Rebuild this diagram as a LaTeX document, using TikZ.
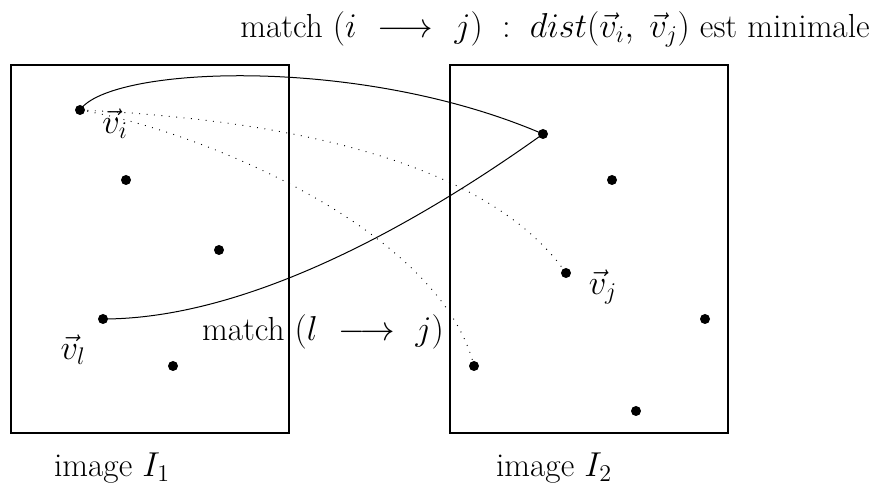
\documentclass[tikz,border=0pt]{standalone}
\usepackage{amsmath}
\newcommand{\gp}{\mkern6mu}
\begin{document}
\begin{tikzpicture}[x=0.6pt,y=-0.6pt,
  frame/.style={draw,line width=0.9pt},
  pt/.style={circle,fill,inner sep=0pt,minimum size=6pt},
  lbl/.style={inner sep=0pt,font=\fontsize{20}{24}\selectfont},
  link/.style={line width=0.6pt},
  guess/.style={line width=0.55pt,dash pattern=on 0.55pt off 3.9pt}]
\useasboundingbox (0,0) rectangle (870,486);
\node[frame,minimum width=166.8pt,minimum height=220.8pt,inner sep=0pt] (I1) at (150,249) {};
\node[frame,minimum width=166.8pt,minimum height=220.8pt,inner sep=0pt] (I2) at (589,249) {};
% left points
\node[pt] (vi) at (80,110) {};
\node[pt] (a1) at (126,180) {};
\node[pt] (a2) at (219,250) {};
\node[pt] (vl) at (103,319) {};
\node[pt] (a3) at (173,366) {};
% right points
\node[pt] (vm) at (543,134) {};
\node[pt] (b1) at (612,180) {};
\node[pt] (vj) at (566,273) {};
\node[pt] (b2) at (705,319) {};
\node[pt] (vk) at (474,366) {};
\node[pt] (b3) at (636,411) {};
% labels
\node[lbl] (Lvi) at (115,124) {$\vec{v}_i$};
\node[lbl] (Lvl) at (73,350) {$\vec{v}_l$};
\node[lbl] (Lvj) at (603,287) {$\vec{v}_j$};
\node[lbl] (Lml) at (323,332) {match $(l\gp\longrightarrow\gp j)$};
\node[lbl] (Ltop) at (555,29) {match $(i\gp\longrightarrow\gp j)\;:\;dist(\vec{v}_i,\;\vec{v}_j)$ est minimale};
\node[lbl] (LI1) at (112,468) {image $I_1$};
\node[lbl] (LI2) at (554,468) {image $I_2$};
% connectors
\draw[link] (vi.center) .. controls (110,66) and (360,55) .. (vm.center);
\draw[link] (vl.center) .. controls (250,319) and (420,222) .. (vm.center);
\draw[guess] (vi.center) .. controls (250,118) and (480,150) .. (vj.center);
\draw[guess] (vi.center) .. controls (200,130) and (440,230) .. (vk.center);
\end{tikzpicture}
\end{document}
